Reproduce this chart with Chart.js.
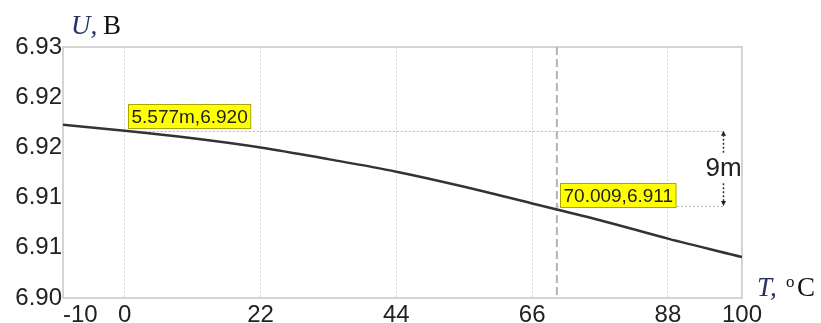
<!DOCTYPE html>
<html>
<head>
<meta charset="utf-8">
<script src="https://cdn.jsdelivr.net/npm/chart.js@4.4.1/dist/chart.umd.min.js"></script>
<style>
  html, body { margin: 0; padding: 0; background: #fff; }
  #wrap { width: 821px; height: 323px; position: relative; }
</style>
</head>
<body>
<div id="wrap"><canvas id="c" width="821" height="323"></canvas></div>
<script>
// Output voltage U (V) versus temperature T (°C)
const temps = [-10, 0, 11, 22, 33, 44, 55, 66, 77, 88, 100];
const volts = [6.9207, 6.9200, 6.9191, 6.9180, 6.9166, 6.9151, 6.9133, 6.9113, 6.9093, 6.9071, 6.9049];

// Axis ticks
const xTicks = [-10, 0, 22, 44, 66, 88, 100];
const yTicks = [6.900, 6.906, 6.912, 6.918, 6.924, 6.930];

// Cursor readouts and the difference marker between them
const cursorT = [0.005577, 70.009];
const cursorU = [6.920, 6.911];
const cursorText = ['5.577m,6.920', '70.009,6.911'];
const deltaT = 97;
const deltaText = '9m';

const SANS = '"Liberation Sans", Arial, sans-serif';
const SERIF = '"Liberation Serif", "Times New Roman", serif';

const overlay = {
  id: 'overlay',
  beforeDatasetsDraw(chart) {
    const { ctx, chartArea: a, scales: { x, y } } = chart;
    ctx.save();
    // plot frame
    ctx.strokeStyle = '#d4d4d4';
    ctx.lineWidth = 2;
    ctx.strokeRect(a.left, a.top, a.right - a.left, a.bottom - a.top);

    // dashed vertical cursor
    const cx = x.getPixelForValue(cursorT[1]);
    ctx.strokeStyle = '#b4b4b4';
    ctx.lineWidth = 2;
    ctx.setLineDash([8, 4]);
    ctx.beginPath();
    ctx.moveTo(cx, a.top);
    ctx.lineTo(cx, a.bottom);
    ctx.stroke();

    // dotted reference levels
    const xd = x.getPixelForValue(deltaT);
    ctx.strokeStyle = '#b8b8b8';
    ctx.lineWidth = 1;
    ctx.setLineDash([2, 2]);
    for (let i = 0; i < cursorT.length; i++) {
      const py = Math.round(y.getPixelForValue(cursorU[i])) + 0.5;
      ctx.beginPath();
      ctx.moveTo(x.getPixelForValue(cursorT[i]), py);
      ctx.lineTo(xd, py);
      ctx.stroke();
    }
    ctx.restore();
  },
  afterDatasetsDraw(chart) {
    const { ctx, chartArea: a, scales: { x, y } } = chart;
    ctx.save();

    // difference arrow
    const xd = Math.round(x.getPixelForValue(deltaT)) + 0.5;
    const y1 = y.getPixelForValue(cursorU[0]);
    const y2 = y.getPixelForValue(cursorU[1]);
    const ym = (y1 + y2) / 2;
    ctx.strokeStyle = '#333';
    ctx.fillStyle = '#222';
    ctx.lineWidth = 1.5;
    ctx.setLineDash([2, 2]);
    ctx.beginPath();
    ctx.moveTo(xd, y1 + 4); ctx.lineTo(xd, ym - 14);
    ctx.moveTo(xd, ym + 15); ctx.lineTo(xd, y2 - 4);
    ctx.stroke();
    ctx.setLineDash([]);
    ctx.beginPath();
    ctx.moveTo(xd, y1); ctx.lineTo(xd - 2.5, y1 + 5); ctx.lineTo(xd + 2.5, y1 + 5); ctx.closePath();
    ctx.moveTo(xd, y2); ctx.lineTo(xd - 2.5, y2 - 5); ctx.lineTo(xd + 2.5, y2 - 5); ctx.closePath();
    ctx.fill();
    ctx.font = '26px ' + SANS;
    ctx.textAlign = 'center';
    ctx.textBaseline = 'middle';
    ctx.fillStyle = '#222';
    ctx.fillText(deltaText, xd, ym + 1);

    // yellow readout boxes
    const dy = [-3, 1];
    ctx.font = '19px ' + SANS;
    ctx.textAlign = 'left';
    ctx.textBaseline = 'middle';
    for (let i = 0; i < cursorT.length; i++) {
      const px = x.getPixelForValue(cursorT[i]);
      const py = y.getPixelForValue(cursorU[i]);
      const w = ctx.measureText(cursorText[i]).width + 6;
      const h = 24;
      const bx = Math.round(px + 3) + 0.5;
      const by = Math.round(py + dy[i] - h) + 0.5;
      ctx.fillStyle = '#ffff00';
      ctx.fillRect(bx, by, w, h);
      ctx.strokeStyle = '#a8a800';
      ctx.lineWidth = 1;
      ctx.strokeRect(bx, by, w, h);
      ctx.fillStyle = '#222';
      ctx.fillText(cursorText[i], bx + 3, by + h / 2 + 1);
    }

    // x tick labels (first one starts at the axis)
    ctx.font = '24px ' + SANS;
    ctx.fillStyle = '#222';
    ctx.textBaseline = 'alphabetic';
    xTicks.forEach((v, i) => {
      ctx.textAlign = i === 0 ? 'left' : 'center';
      ctx.fillText(String(v), x.getPixelForValue(v), 322);
    });

    // axis titles
    ctx.textAlign = 'left';
    ctx.font = 'italic 27px ' + SERIF;
    ctx.fillStyle = '#24325e';
    ctx.fillText('U,', 71, 34);
    ctx.font = '27px ' + SERIF;
    ctx.fillStyle = '#111';
    ctx.fillText('B', 103, 34);

    ctx.font = 'italic 27px ' + SERIF;
    ctx.fillStyle = '#24325e';
    ctx.fillText('T,', 757, 296);
    ctx.font = '17px ' + SERIF;
    ctx.fillStyle = '#111';
    ctx.fillText('o', 786, 287);
    ctx.font = '27px ' + SERIF;
    ctx.fillText('C', 797, 296);
    ctx.restore();
  }
};

new Chart(document.getElementById('c'), {
  type: 'line',
  data: {
    datasets: [{
      data: temps.map((t, i) => ({ x: t, y: volts[i] })),
      borderColor: '#333333',
      borderWidth: 2.5,
      pointRadius: 0,
      cubicInterpolationMode: 'monotone',
      fill: false
    }]
  },
  options: {
    responsive: false,
    animation: false,
    devicePixelRatio: 1,
    layout: { padding: { top: 47, right: 79, left: 0, bottom: 0 } },
    plugins: { legend: { display: false }, tooltip: { enabled: false } },
    scales: {
      x: {
        type: 'linear',
        min: -10,
        max: 100,
        afterBuildTicks: s => { s.ticks = xTicks.map(v => ({ value: v })); },
        afterFit: s => { s.height = 25; },
        ticks: { display: false },
        border: { display: false, dash: [2, 2] },
        grid: {
          drawTicks: false,
          lineWidth: 1,
          color: c => (c.tick && (c.tick.value === -10 || c.tick.value === 100)) ? 'rgba(0,0,0,0)' : '#d6d6d6'
        }
      },
      y: {
        min: 6.90,
        max: 6.93,
        afterBuildTicks: s => { s.ticks = yTicks.map(v => ({ value: v })); },
        afterFit: s => { s.width = 63; },
        border: { display: false },
        grid: { display: false, drawTicks: false },
        ticks: {
          padding: 1,
          color: '#222',
          font: { family: SANS, size: 24 },
          callback: v => Number(v).toFixed(2)
        }
      }
    }
  },
  plugins: [overlay]
});
</script>
</body>
</html>
